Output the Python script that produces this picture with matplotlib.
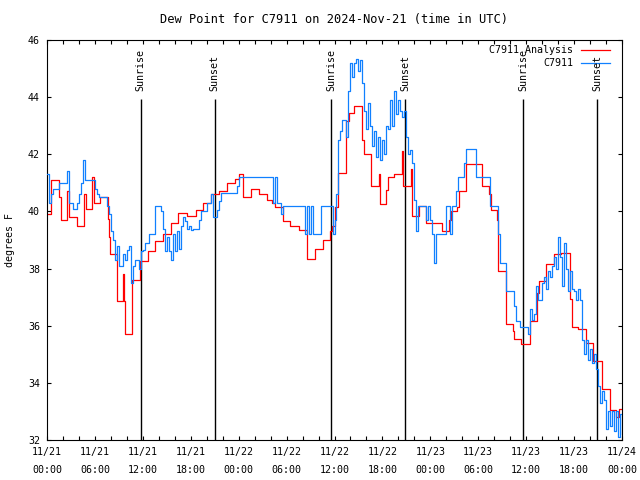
import numpy as np
import matplotlib
matplotlib.use('Agg')
import matplotlib.pyplot as plt

# hours since 2024-11-21 00:00 UTC
# analysis (hourly-ish steps): change times and values
red_hours = [0, 0.5, 1.5, 1.75, 2.5, 2.75, 3.75, 4.67, 4.83, 5.58, 5.83, 6.63, 7.67, 7.75, 7.83,
             8.71, 8.8, 9.5, 9.58, 9.75, 10.6, 11.7, 12.6, 13.55, 14.5, 15.55, 16.4, 17.5, 18.6,
             19.5, 20.5, 21.5, 22.5, 23.5, 24.0, 24.5, 25.6, 26.5, 27.5, 28.2, 28.5, 29.5, 30.4,
             31.6, 32.5, 33.6, 34.5, 35.4, 35.67, 36.0, 36.5, 37.46, 37.8, 38.5, 39.5, 39.75,
             40.6, 41.54, 41.7, 42.46, 42.67, 43.5, 44.46, 44.54, 45.6, 45.7, 46.6, 47.5, 49.5,
             50.4, 50.6, 51.4, 51.6, 52.5, 54.5, 55.4, 55.6, 56.4, 56.5, 57.5, 58.3, 58.5, 59.4,
             60.5, 61.4, 61.6, 62.5, 63.5, 64.3, 65.5, 65.8, 66.5, 67.5, 68.4, 69.5, 70.5, 71.3,
             71.6, 72.0]
red_dewpt = [39.9, 41.1, 40.5, 39.7, 40.7, 39.8, 39.5, 40.6, 40.1, 41.2, 40.3, 40.5, 39.75, 39.1,
             38.5, 37.7, 36.85, 37.8, 36.85, 35.7, 37.6, 38.25, 38.6, 38.95, 39.2, 39.6, 39.95,
             39.85, 40.05, 40.3, 40.6, 40.7, 41.0, 41.15, 41.3, 40.5, 40.8, 40.6, 40.4, 40.3,
             40.15, 39.65, 39.5, 39.35, 38.35, 38.7, 39.0, 39.3, 39.5, 40.15, 41.35, 43.15, 43.45,
             43.7, 42.5, 42.0, 40.9, 41.3, 40.25, 40.75, 41.2, 41.3, 42.1, 40.9, 41.5, 39.85,
             40.2, 39.6, 39.3, 39.7, 40.0, 40.15, 40.7, 41.65, 40.9, 40.6, 40.05, 39.7, 37.9,
             36.05, 35.8, 35.55, 35.35, 36.15, 37.15, 37.55, 38.15, 38.5, 38.55, 36.95, 35.95,
             35.9, 35.4, 34.75, 33.8, 33.05, 32.8, 33.1, 33.1]

# station obs, every 15 minutes (one row per hour)
blue_dewpt = [
    41.3, 40.3, 40.6, 40.8,  40.8, 40.8, 41.0, 41.0,  41.0, 41.0, 41.4, 40.3,
    40.3, 40.1, 40.1, 40.3,  40.6, 41.0, 41.8, 41.1,  41.1, 41.1, 41.1, 41.1,
    40.8, 40.6, 40.5, 40.5,  40.5, 40.5, 40.2, 39.9,  39.3, 39.0, 38.3, 38.8,
    38.1, 38.1, 38.5, 38.3,  38.65, 38.8, 37.5, 38.1, 38.3, 38.3, 38.0, 38.6,
    38.65, 38.9, 38.9, 39.2, 39.2, 39.2, 40.2, 40.2, 40.2, 40.0, 39.4, 38.6,
    39.1, 38.6, 38.3, 39.2,  38.6, 39.3, 38.7, 39.5,  39.8, 39.65, 39.4, 39.5,
    39.35, 39.4, 39.4, 39.4, 39.7, 40.0, 40.0, 40.0,  40.3, 40.3, 40.6, 39.8,
    39.8, 40.05, 40.35, 40.65, 40.65, 40.65, 40.65, 40.65, 40.65, 40.65, 40.65, 40.9,
    41.2, 41.2, 41.2, 41.2,  41.2, 41.2, 41.2, 41.2,  41.2, 41.2, 41.2, 41.2,
    41.2, 41.2, 41.2, 41.2,  41.2, 40.3, 41.2, 40.3,  40.3, 39.9, 40.2, 40.2,
    40.2, 40.2, 40.2, 40.2,  40.2, 40.2, 40.2, 40.2,  40.2, 39.2, 40.2, 39.2,
    40.2, 39.2, 39.2, 39.2,  39.2, 40.2, 40.2, 40.2,  40.2, 40.2, 40.2, 39.2,
    39.7, 40.6, 42.5, 42.8,  43.2, 43.2, 42.6, 44.2,  45.2, 44.7, 45.2, 45.35,
    44.9, 45.3, 44.5, 43.5,  42.9, 43.8, 43.0, 42.3,  42.8, 41.9, 42.6, 41.8,
    42.5, 42.0, 43.0, 42.9,  43.9, 43.0, 44.2, 43.4,  43.9, 43.5, 43.3, 43.5,
    42.6, 42.0, 42.15, 41.7, 40.4, 39.3, 40.2, 40.2,  40.2, 40.2, 39.7, 40.2,
    39.7, 39.2, 38.2, 39.2,  39.2, 39.2, 39.2, 39.2,  40.2, 40.2, 39.2, 40.2,
    40.2, 40.7, 41.2, 41.2,  41.2, 41.7, 42.2, 42.2,  42.2, 42.2, 42.2, 41.2,
    41.2, 41.2, 41.2, 41.2,  41.2, 41.2, 40.2, 40.2,  40.2, 40.2, 39.2, 38.2,
    38.2, 38.2, 37.2, 37.2,  37.2, 37.2, 36.7, 36.15, 36.15, 35.95, 35.95, 35.95,
    35.95, 35.7, 36.6, 36.2, 36.4, 37.4, 36.9, 36.9,  37.5, 37.7, 37.3, 37.9,
    37.7, 38.1, 38.4, 38.0,  39.1, 38.4, 37.4, 38.9,  38.0, 37.2, 37.9, 37.3,
    37.2, 36.9, 37.3, 36.9,  35.5, 35.0, 35.5, 34.8,  35.2, 34.7, 35.0, 34.5,
    33.9, 33.3, 33.7, 33.4,  32.4, 33.0, 32.5, 33.0,  32.3, 33.0, 32.1, 32.9,
    32.2,
]
blue_hours = np.arange(len(blue_dewpt)) * 0.25

sun_hours = [11.75, 21.0, 35.62, 44.88, 59.62, 68.88]
sun_labels = ['Sunrise', 'Sunset', 'Sunrise', 'Sunset', 'Sunrise', 'Sunset']

tick_hours = list(range(0, 73, 6))
tick_labels = ['11/21\n00:00', '11/21\n06:00', '11/21\n12:00', '11/21\n18:00',
               '11/22\n00:00', '11/22\n06:00', '11/22\n12:00', '11/22\n18:00',
               '11/23\n00:00', '11/23\n06:00', '11/23\n12:00', '11/23\n18:00',
               '11/24\n00:00']

RED = '#ff0000'
BLUE = '#1080ff'

plt.rcParams['font.family'] = ['DejaVu Sans Mono']
plt.rcParams['font.size'] = 7.2

fig = plt.figure(figsize=(6.4, 4.8), dpi=100)
ax = fig.add_axes([47 / 640, 1 - 440 / 480, 575 / 640, 400 / 480])

for h, lab in zip(sun_hours, sun_labels):
    ax.vlines(h, 32, 43.95, color='black', lw=1.0, zorder=1)
    ax.text(h, 44.2, lab, rotation=90, ha='center', va='bottom')

ax.step(red_hours, red_dewpt, where='post', color=RED, lw=0.9, zorder=2)
ax.step(blue_hours, blue_dewpt, where='post', color=BLUE, lw=0.9, zorder=3)

ax.set_xlim(0, 72)
ax.set_ylim(32, 46)
ax.set_xticks(tick_hours)
ax.set_xticklabels(tick_labels, linespacing=2.0)
ax.set_xticks(range(0, 73, 2), minor=True)
ax.set_yticks(range(32, 47, 2))
ax.tick_params(which='both', direction='in', top=True, right=True, length=3.2, width=0.8)
ax.tick_params(axis='x', pad=5)
ax.tick_params(axis='y', pad=5)
for s in ax.spines.values():
    s.set_linewidth(0.8)

ax.set_title('Dew Point for C7911 on 2024-Nov-21 (time in UTC)', pad=12)
ax.set_ylabel('degrees F')
ax.yaxis.set_label_coords(-0.055, 0.5)

# key, top right
ax.text(0.9148, 0.975, 'C7911 Analysis', transform=ax.transAxes, ha='right', va='center')
ax.plot([0.9287, 0.9791], [0.975, 0.975], transform=ax.transAxes, color=RED, lw=0.9, clip_on=False)
ax.text(0.9148, 0.9425, 'C7911', transform=ax.transAxes, ha='right', va='center')
ax.plot([0.9287, 0.9791], [0.9425, 0.9425], transform=ax.transAxes, color=BLUE, lw=0.9, clip_on=False)

fig.savefig('out.png', dpi=100)
